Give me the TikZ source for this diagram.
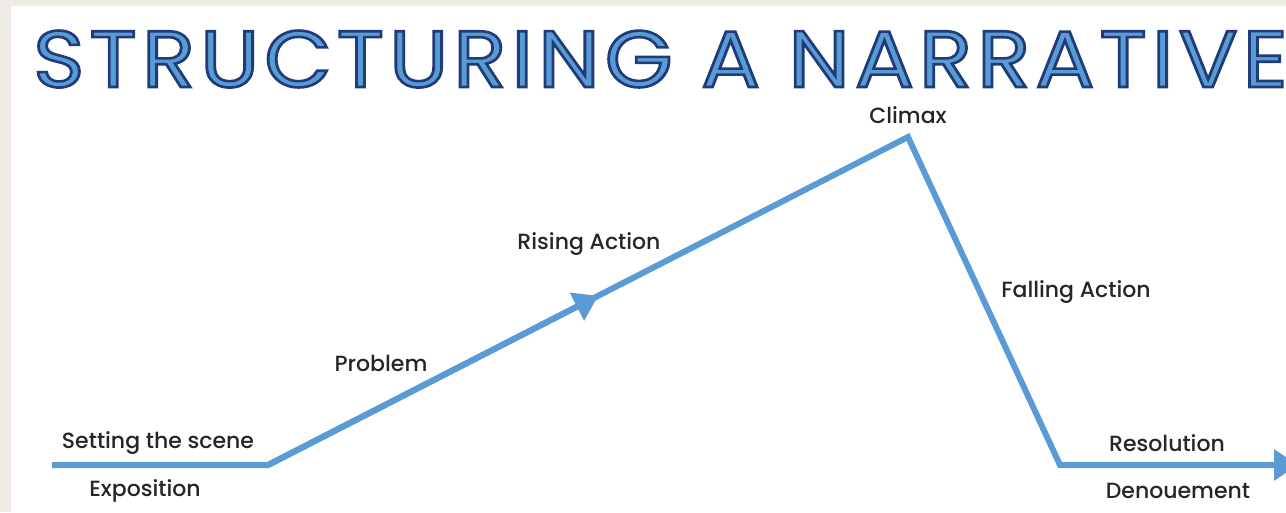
\documentclass[tikz,border=0pt]{standalone}
\usepackage{fontspec}
\usepackage{graphicx}
\setmainfont{Poppins}
\newfontfamily\titlefont{Poppins}[LetterSpace=6]
\newfontfamily\lblfont{Poppins Medium}
\usetikzlibrary{arrows.meta,calc}
\definecolor{lineblue}{HTML}{5B9BD5}
\definecolor{darkblue}{HTML}{1F3C78}
\definecolor{paper}{HTML}{EFECE5}
\newcommand\outlined[1]{{\color{lineblue}%
  \special{pdf:literal direct 2 Tr 2.6 w 0.122 0.235 0.471 RG}#1%
  \special{pdf:literal direct 0 Tr}}}
\tikzset{
  lbl/.style={text=black!85, font={\lblfont\fontsize{22pt}{26pt}\selectfont}, inner sep=0pt},
  story/.style={draw=lineblue, line width=6pt, line join=miter}}

\begin{document}
\begin{tikzpicture}[x=1pt, y=-1pt]
  % background and frame
  \fill[paper] (0,0) rectangle (1286,512);
  \fill[white] (11,6) rectangle (1286,512);
  \useasboundingbox (0,0) rectangle (1286,512);
  % title
  \node (ttl) [anchor=base west, inner sep=0pt, text depth=0pt] at (33,87)
    {\scalebox{1.09}[1]{\titlefont\fontsize{80pt}{90pt}\selectfont
     \outlined{STRUCTURING A NARRATIVE}}};
  % plot points
  \coordinate (st) at (52,465);
  \coordinate (kn) at (268,465);
  \coordinate (pk) at (908,137);
  \coordinate (bt) at (1060,465);
  \coordinate (en) at (1298,465);
  \coordinate (md) at ($(kn)!0.516!(pk)$);
  % labels
  \node (se) [lbl] at (158,443) {Setting the scene};
  \node (ex) [lbl] at (145,491) {Exposition};
  \node (pb) [lbl] at (381,363) {Problem};
  \node (ra) [lbl] at (589,244) {Rising Action};
  \node (cx) [lbl] at (908,115) {Climax};
  \node (fa) [lbl] at (1076,292) {Falling Action};
  \node (rs) [lbl] at (1167,443) {Resolution};
  \node (dn) [lbl] at (1178,491) {Denouement};
  % the line
  \draw[story] (st) -- (kn) -- (pk) -- (bt) -- ($(en)+(-20,0)$);
  \draw[story, -{Triangle[length=24pt, width=30pt]}] (bt) -- (en);
  \draw[story, -{Triangle[length=24pt, width=30pt]}] (kn) -- (md);
\end{tikzpicture}
\end{document}
